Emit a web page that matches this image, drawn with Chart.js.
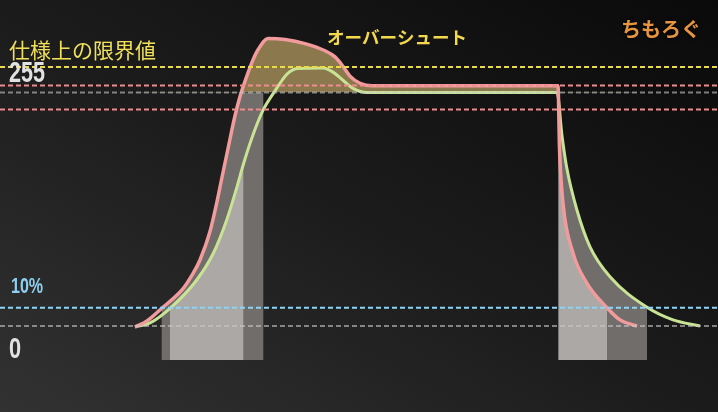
<!DOCTYPE html>
<html lang="ja">
<head>
    <meta charset="UTF-8">
    <title>オーバーシュート</title>
    <style>
        body {
            margin: 0;
            background: #111;
        }
        .chart-box {
            position: relative;
            width: 718px;
            height: 412px;
            background: linear-gradient(to top right, #323232 0%, #1b1b1b 50%, #0a0a0a 100%);
        }
    </style>
</head>
<body>
    <div class="chart-box">
        <canvas id="responseChart"></canvas>
    </div>
    <script src="https://cdn.jsdelivr.net/npm/chart.js"></script>
    <script>
        // time (ms) and level (0-255)
        const pinkTime   = [0, 1.2, 2.67, 4.83, 5.7, 6.5, 7.5, 8.17, 8.67, 9.33, 10.0, 10.5, 11.0, 11.8, 12.3, 13.3, 15.0, 17.0, 19.0, 20.0, 20.7, 21.5, 22.5, 23.7, 42.3, 42.45, 42.8, 43.8, 45.2, 47.2, 48.5, 50.2];
        const pinkLevel  = [-1, 5, 17.4, 37, 50, 65, 93, 121, 145, 176, 207, 226, 241, 262, 272, 283, 282, 278, 271, 265, 257, 246, 239, 236.5, 236.5, 175, 121, 72, 42, 18, 6, 0];
        const greenTime  = [0, 1.5, 3.5, 6.17, 7.83, 9.17, 10.17, 10.83, 11.83, 12.83, 13.83, 14.5, 15.2, 16.2, 18.8, 19.8, 20.8, 21.8, 23.2, 42.2, 42.7, 43.2, 44.2, 45.5, 47.5, 51.2, 53.8, 56.5];
        const greenLevel = [-1, 3, 17.4, 45.3, 71.6, 104.4, 136, 159, 189, 213, 229, 239, 248, 253.5, 254, 250, 242, 234, 230, 230, 187.5, 154.5, 114, 78, 48.5, 18.4, 6, 0];

        // horizontal reference levels
        const refLevels = [255, 236.8, 229.9, 213.2, 18, 0];
        const refColors = ['#eadb4c', '#ec8c8e', 'rgba(200,200,200,0.6)', '#ec8c8e', '#8fd4f4', 'rgba(200,200,200,0.6)'];

        // measured spans (gray blocks): start, end, curve, cap level
        const bandFrom  = [2.67, 3.5, 42.35, 42.35];
        const bandTo    = [12.83, 10.83, 51.2, 47.2];
        const bandCurve = ['pink', 'green', 'green', 'pink'];
        const bandCap   = [229.9, 229.9, 321, 321];
        const bandBase  = -33.5;
        const bandColors = ['#716d6b', '#aca8a6', '#716d6b', '#aca8a6'];

        const timeMin = -13.5, timeMax = 58.3;
        const levelMin = -84.7, levelMax = 321;

        const toPoints = (xs, ys) => xs.map((t, i) => ({ x: t, y: ys[i] }));

        const datasets = refLevels.map((lv, i) => ({
            label: 'ref' + i,
            data: [{ x: timeMin, y: lv }, { x: timeMax, y: lv }],
            borderColor: refColors[i],
            borderWidth: 2,
            borderDash: [5, 3],
            pointRadius: 0,
            fill: false
        }));
        datasets.push({
            label: 'pink',
            data: toPoints(pinkTime, pinkLevel),
            borderColor: '#f29b9d',
            borderWidth: 3.5,
            cubicInterpolationMode: 'monotone',
            pointRadius: 0,
            backgroundColor: 'rgba(150,130,82,0.92)',
            fill: { target: { value: 229.9 }, above: 'rgba(150,130,82,0.92)', below: 'rgba(0,0,0,0)' }
        });
        datasets.push({
            label: 'green',
            data: toPoints(greenTime, greenLevel),
            borderColor: '#c9e394',
            borderWidth: 3,
            cubicInterpolationMode: 'monotone',
            pointRadius: 0,
            fill: false
        });

        const bandPlugin = {
            id: 'bands',
            beforeDatasetsDraw(chart) {
                const { ctx, scales: { x, y } } = chart;
                bandFrom.forEach((from, i) => {
                    const idx = chart.data.datasets.findIndex(d => d.label === bandCurve[i]);
                    const line = chart.getDatasetMeta(idx).dataset;
                    line.updateControlPoints(chart.chartArea, 'x');
                    const left = x.getPixelForValue(from);
                    const right = x.getPixelForValue(bandTo[i]);
                    const top = y.getPixelForValue(bandCap[i]);
                    const bottom = y.getPixelForValue(bandBase);
                    const pts = line.points;
                    ctx.save();
                    ctx.beginPath();
                    ctx.rect(left, top, right - left, bottom - top);
                    ctx.clip();
                    ctx.beginPath();
                    line.path(ctx);
                    ctx.lineTo(pts[pts.length - 1].x, bottom);
                    ctx.lineTo(pts[0].x, bottom);
                    ctx.closePath();
                    ctx.fillStyle = bandColors[i];
                    ctx.fill();
                    ctx.restore();
                });
            }
        };

        const labelPlugin = {
            id: 'labels',
            afterDraw(chart) {
                const { ctx, scales: { y } } = chart;
                const narrow = (text, px, py, font, color, sx) => {
                    ctx.save();
                    ctx.translate(px, py);
                    ctx.scale(sx, 1);
                    ctx.font = font;
                    ctx.fillStyle = color;
                    ctx.textBaseline = 'alphabetic';
                    ctx.fillText(text, 0, 0);
                    ctx.restore();
                };
                ctx.save();
                ctx.textBaseline = 'middle';
                ctx.font = '21px "Noto Sans CJK JP"';
                ctx.fillStyle = '#f0e05a';
                ctx.fillText('仕様上の限界値', 9, 50);
                ctx.font = 'bold 17.5px "Noto Sans CJK JP"';
                ctx.fillStyle = '#f3d84c';
                ctx.fillText('オーバーシュート', 327, 37);
                ctx.font = 'bold 20px "Noto Sans CJK JP"';
                ctx.shadowColor = 'rgba(0,0,0,0.9)';
                ctx.shadowBlur = 4;
                ctx.fillStyle = '#e8953f';
                ctx.fillText('ちもろぐ', 621, 29);
                ctx.restore();

                narrow('255', 9, y.getPixelForValue(255) + 15, 'bold 30px "Liberation Sans"', '#e2e2e2', 0.72);
                narrow('10%', 11, y.getPixelForValue(18) - 15, 'bold 22px "Liberation Sans"', '#8dcff0', 0.73);
                narrow('0', 9, y.getPixelForValue(0) + 32, 'bold 29px "Liberation Sans"', '#e2e2e2', 0.75);
            }
        };

        new Chart(document.getElementById('responseChart'), {
            type: 'line',
            data: { datasets },
            options: {
                responsive: true,
                maintainAspectRatio: false,
                animation: false,
                layout: { padding: 0 },
                scales: {
                    x: { type: 'linear', min: timeMin, max: timeMax, display: false },
                    y: { type: 'linear', min: levelMin, max: levelMax, display: false }
                },
                plugins: {
                    legend: { display: false },
                    tooltip: { enabled: false },
                    filler: { drawTime: 'beforeDatasetsDraw' }
                }
            },
            plugins: [bandPlugin, labelPlugin]
        });
    </script>
</body>
</html>
